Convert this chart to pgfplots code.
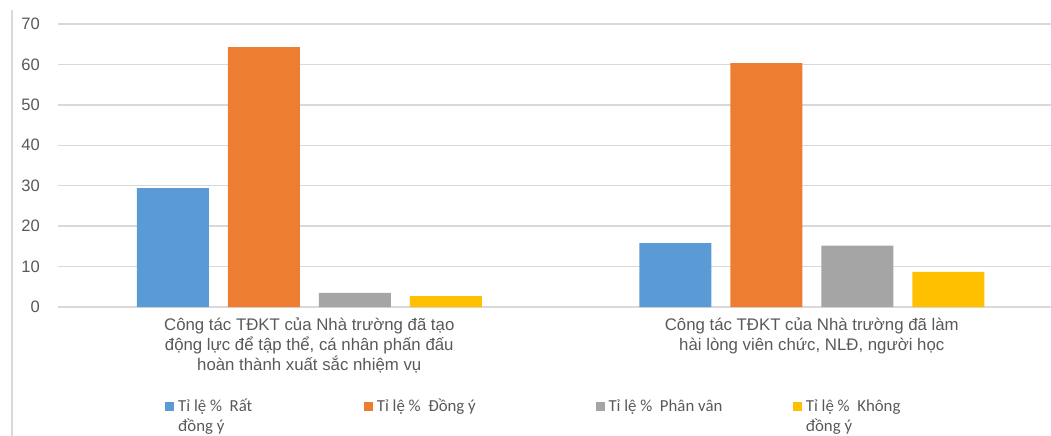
\documentclass[border=0pt]{standalone}
\usepackage{pgfplots}
\pgfplotsset{compat=1.18}
\usepackage{fontspec}
\setmainfont{Liberation Sans}
\newfontfamily\legfont{Carlito}
\definecolor{cblue}{HTML}{5B9BD5}
\definecolor{corange}{HTML}{ED7D31}
\definecolor{cgray}{HTML}{A5A5A5}
\definecolor{cyellow}{HTML}{FFC000}
\definecolor{txt}{HTML}{595959}
\definecolor{gridc}{HTML}{D9D9D9}
\begin{document}
\begin{tikzpicture}
\begin{axis}[
  at={(0pt,0pt)}, anchor=south west,
  scale only axis, width=744.75pt, height=212.25pt,
  xmin=-0.5, xmax=1.476, ymin=0, ymax=70,
  ybar=14.25pt, bar width=54pt,
  xtick={0,1},
  xticklabels={{Công tác TĐKT của Nhà trường đã tạo\\động lực để tập thể, cá nhân phấn đấu\\hoàn thành xuất sắc nhiệm vụ},
               {Công tác TĐKT của Nhà trường đã làm\\hài lòng viên chức, NLĐ, người học}},
  xticklabel style={align=center, font=\fontsize{12.6}{15}\selectfont, text=txt, inner sep=2pt, yshift=-3.5pt},
  ytick={0,10,...,70},
  yticklabel style={font=\fontsize{12.4}{14}\selectfont, text=txt, xshift=-8pt},
  /pgf/number format/assume math mode=true,
  ymajorgrids, major grid style={draw=gridc, line width=1pt},
  axis x line=bottom, axis y line=left,
  axis line style={draw=none},
  tick style={draw=none},
  legend columns=4,
  legend cell align=left,
  legend style={at={(0.1077,-0.308)}, anchor=north west, draw=none, fill=none,
    inner sep=0pt, font=\legfont\fontsize{12.6}{15}\selectfont, text=txt,
    cells={anchor=base west},
    nodes={inner sep=3pt}},
  legend image code/.code={\fill[#1] (0pt,-0.2pt) rectangle (6.75pt,6.55pt);},
]
\addplot[fill=cblue, draw=none] coordinates {(0,29.4) (1,15.8)};
\addplot[fill=corange, draw=none] coordinates {(0,64.3) (1,60.3)};
\addplot[fill=cgray, draw=none] coordinates {(0,3.5) (1,15.2)};
\addplot[fill=cyellow, draw=none] coordinates {(0,2.7) (1,8.7)};
\addlegendentry{\parbox[t]{136.25pt}{Tỉ lệ \%\ \ Rất\\đồng ý}}
\addlegendentry{\parbox[t]{161pt}{Tỉ lệ \%\ \ Đồng ý}}
\addlegendentry{\parbox[t]{135.25pt}{Tỉ lệ \%\ \ Phân vân}}
\addlegendentry{\parbox[t]{75pt}{Tỉ lệ \%\ \ Không\\đồng ý}}
\end{axis}
\draw[gridc, line width=1.1pt] (-34.5pt,222.75pt) -- (-34.5pt,-100pt);
\pgfresetboundingbox
\path[use as bounding box] (-43.5pt,-96.75pt) rectangle (744.75pt,230.25pt);
\end{tikzpicture}
\end{document}
